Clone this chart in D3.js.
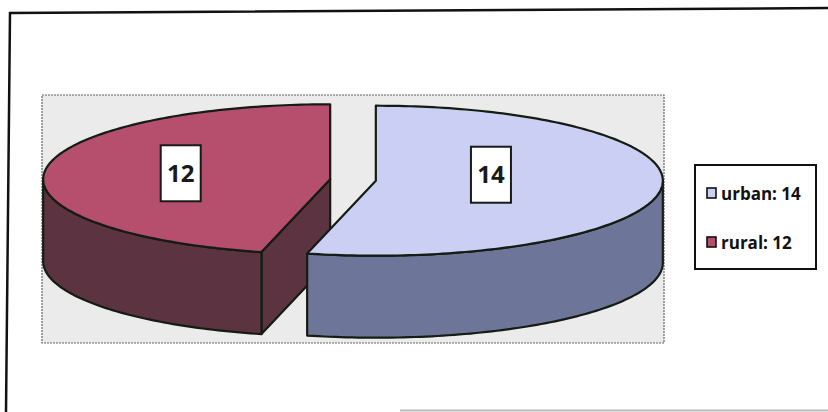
<!DOCTYPE html>
<html>
<head>
<meta charset="utf-8">
<script src="https://cdn.jsdelivr.net/npm/d3@7"></script>
<style>
  body { margin: 0; background: #fff; }
  svg { display: block; }
  text { font-family: "Open Sans", "Noto Sans", sans-serif; }
</style>
</head>
<body>
<div id="chart"></div>
<script>
// chart data
var categories = ["urban", "rural"];
var values = [14, 12];
var topColors = ["#cbcff4", "#b64e6d"];
var sideColors = ["#6d7698", "#5c3340"];

var w = 828, h = 412;

var svg = d3.select("#chart").append("svg")
    .attr("width", w).attr("height", h);

//outer frame (scanned page, slightly tilted)
svg.append("path")
    .attr("d", "M6,412 L10,13 L828,8")
    .attr("fill", "none")
    .attr("stroke", "#111")
    .attr("stroke-width", 2.5);
svg.append("line")
    .attr("x1", 400).attr("y1", 410.5).attr("x2", 828).attr("y2", 410.5)
    .attr("stroke", "#bbb").attr("stroke-width", 2);

//plot area
svg.append("rect")
    .attr("x", 42).attr("y", 95)
    .attr("width", 622).attr("height", 248)
    .attr("fill", "#ebebeb")
    .attr("stroke", "#666")
    .attr("stroke-width", 1.2)
    .attr("stroke-dasharray", "2,1");

//3d pie geometry
var rx = 287, ry = 75, depth = 82;
var baseCx = 353, cy = 180, explode = 23;

var data = categories.map(function(c, i){
    return {name: c, value: values[i], top: topColors[i], side: sideColors[i]};
});

var pie = d3.pie()
    .sort(null)
    .startAngle(0)
    .endAngle(2 * Math.PI)
    .value(function(d){ return d.value; });

var arcs = pie(data);

arcs.forEach(function(a){
    var mid = (a.startAngle + a.endAngle) / 2;
    a.mid = mid;
    a.cx = baseCx + explode * Math.sin(mid);
    a.cy = cy - explode * (ry / rx) * Math.cos(mid);
});

function proj(a, cx0, y0){
    return [cx0 + rx * Math.sin(a), y0 - ry * Math.cos(a)];
}

function sample(a0, a1){
    var n = Math.max(2, Math.ceil(Math.abs(a1 - a0) / 0.02));
    return d3.range(n + 1).map(function(i){ return a0 + (a1 - a0) * i / n; });
}

var line = d3.line();

//back to front
var order = arcs.slice().sort(function(a, b){ return Math.cos(b.mid) - Math.cos(a.mid); });

var pieG = svg.append("g")
    .attr("stroke", "#141c14")
    .attr("stroke-width", 2.2)
    .attr("stroke-linejoin", "round");

order.forEach(function(a){
    var g = pieG.append("g").attr("class", "slice");
    var c0 = [a.cx, a.cy], c1 = [a.cx, a.cy + depth];

    //cut faces
    [[a.startAngle, Math.sin(a.startAngle) < -0.01], [a.endAngle, Math.sin(a.endAngle) > 0.01]]
        .forEach(function(f){
            if(!f[1]) return;
            var p0 = proj(f[0], a.cx, a.cy), p1 = proj(f[0], a.cx, a.cy + depth);
            g.append("path")
                .attr("d", line([c0, p0, p1, c1]) + "Z")
                .attr("fill", a.data.side);
        });

    //outer side
    var v0 = Math.max(a.startAngle, Math.PI / 2);
    var v1 = Math.min(a.endAngle, 3 * Math.PI / 2);
    if(v0 < v1){
        var angs = sample(v0, v1);
        var pts = angs.map(function(t){ return proj(t, a.cx, a.cy); })
            .concat(angs.slice().reverse().map(function(t){ return proj(t, a.cx, a.cy + depth); }));
        g.append("path")
            .attr("d", line(pts) + "Z")
            .attr("fill", a.data.side);
    }

    //top face
    var topPts = [c0].concat(sample(a.startAngle, a.endAngle).map(function(t){
        return proj(t, a.cx, a.cy);
    }));
    var topPath = g.append("path")
        .attr("d", line(topPts) + "Z")
        .attr("fill", a.data.top);

    a.bbox = topPath.node().getBBox();
});

//data labels
var labels = svg.append("g").selectAll("g")
    .data(arcs)
    .enter()
    .append("g")
    .attr("transform", function(d){
        var x = d.bbox.x + d.bbox.width / 2 + 6 * Math.sin(d.mid);
        return "translate(" + x + "," + (d.cy - 6) + ")";
    });

labels.append("rect")
    .attr("x", -20).attr("y", -28)
    .attr("width", 40).attr("height", 56)
    .attr("fill", "#fff")
    .attr("stroke", "#1a1a1a")
    .attr("stroke-width", 2);

labels.append("text")
    .attr("text-anchor", "middle")
    .attr("dy", "0.36em")
    .attr("font-size", 24)
    .attr("font-weight", 700)
    .attr("fill", "#1a1a1a")
    .text(function(d){ return d.data.value; });

//legend
var legend = svg.append("g").attr("transform", "translate(695,165)");
legend.append("rect")
    .attr("width", 121).attr("height", 104)
    .attr("fill", "#fff")
    .attr("stroke", "#111")
    .attr("stroke-width", 2);

var items = legend.selectAll(".item")
    .data(data)
    .enter()
    .append("g")
    .attr("class", "item")
    .attr("transform", function(d, i){ return "translate(12," + (23 + i * 49) + ")"; });

items.append("rect")
    .attr("width", 9).attr("height", 10)
    .attr("fill", function(d){ return d.top; })
    .attr("stroke", "#111")
    .attr("stroke-width", 1.6);

items.append("text")
    .attr("x", 14).attr("y", 12)
    .attr("font-size", 17)
    .attr("font-weight", 700)
    .attr("fill", "#111")
    .text(function(d){ return d.name + ": " + d.value; });
</script>
</body>
</html>
